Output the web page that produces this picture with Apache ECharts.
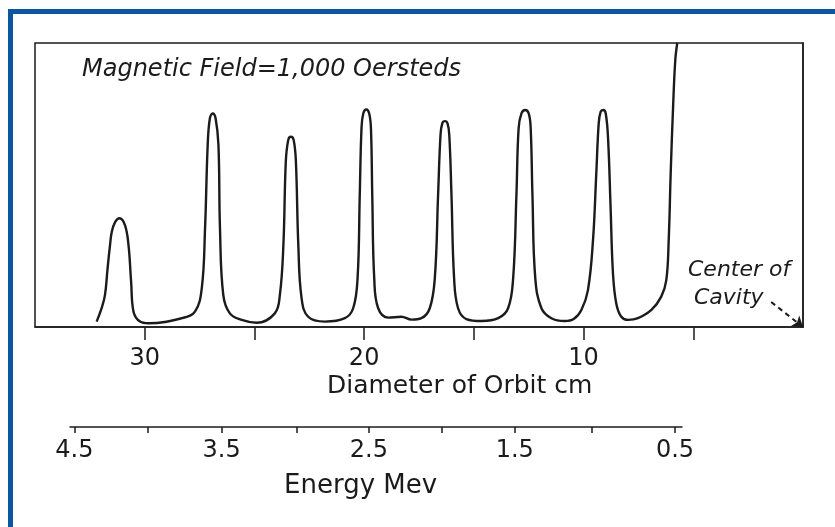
<!DOCTYPE html>
<html>
<head>
<meta charset="utf-8">
<script src="https://cdn.jsdelivr.net/npm/echarts@6/dist/echarts.min.js"></script>
<style>
  html, body { margin: 0; padding: 0; background: #fff; }
  #chart { width: 835px; height: 527px; }
</style>
</head>
<body>
<div id="chart"></div>
<script>
// orbit diameter (cm), left to right
var orbitCm = [
  32.19, 31.96, 31.81, 31.69, 31.58, 31.50, 31.35, 31.15, 30.90, 30.74,
  30.62, 30.51, 30.21, 29.83, 28.31, 27.71, 27.40, 27.25, 27.13, 27.03,
  26.90, 26.77, 26.64, 26.57, 26.42, 26.12, 25.58, 24.90, 24.07, 23.84,
  23.68, 23.57, 23.46, 23.34, 23.21, 23.11, 23.00, 22.85, 22.55, 21.79,
  20.88, 20.50, 20.30, 20.20, 20.12, 20.04, 19.90, 19.77, 19.69, 19.63,
  19.54, 19.36, 18.90, 18.30, 17.84, 17.39, 17.01, 16.78, 16.63, 16.52,
  16.44, 16.32, 16.20, 16.12, 16.02, 15.90, 15.72, 15.34, 14.65, 13.89,
  13.44, 13.21, 13.06, 12.96, 12.83, 12.66, 12.50, 12.41, 12.33, 12.20,
  11.92, 11.47, 10.86, 10.45, 10.10, 9.80, 9.57, 9.42, 9.31, 9.22,
  9.11, 8.99, 8.88, 8.77, 8.66, 8.51, 8.28, 7.97, 7.52, 6.91,
  6.46, 6.23, 6.12, 6.03, 5.92, 5.82, 5.73
];
// detector signal (arbitrary units, 0-100 of the box height)
var signal = [
  1.9, 6.7, 11.3, 20.8, 28.9, 33.5, 36.9, 38.3, 35.9, 28.9,
  16.0, 5.4, 1.9, 1.3, 3.1, 5.4, 13.6, 34.8, 64.1, 73.5,
  75.2, 73.5, 64.1, 34.8, 11.3, 4.8, 2.5, 1.5, 4.8, 11.3,
  28.9, 58.2, 65.8, 67.0, 65.8, 58.2, 28.9, 10.1, 3.6, 1.9,
  3.1, 6.6, 17.1, 46.5, 70.0, 75.2, 76.6, 75.2, 70.0, 46.5,
  17.1, 6.6, 3.3, 3.6, 2.6, 3.1, 6.6, 17.1, 46.5, 67.6,
  71.7, 72.5, 71.7, 67.6, 46.5, 17.1, 6.6, 2.8, 2.1, 3.1,
  6.6, 17.1, 46.5, 70.0, 75.2, 76.4, 75.2, 70.0, 46.5, 17.1,
  6.6, 3.1, 2.1, 2.8, 6.0, 13.0, 30.6, 54.1, 71.7, 75.8,
  76.4, 75.2, 65.8, 42.4, 18.9, 8.3, 3.6, 2.5, 3.1, 6.0,
  10.7, 16.5, 30.6, 54.1, 77.6, 94.0, 100
];

var diameterTicks = [5, 10, 15, 20, 25, 30];
var diameterLabels = [10, 20, 30];

// energy scale (Mev) and where each tick sits on the diameter scale
var energyTicks = [4.5, 4.0, 3.5, 3.0, 2.5, 2.0, 1.5, 1.0, 0.5];
var energyTickCm = [33.10, 29.77, 26.40, 22.98, 19.70, 16.39, 13.06, 9.55, 5.77];
var energyLabelCm = energyTickCm.filter(function (c, i) { return i % 2 === 0 });

var arrowFrom = [1.45, 8.8];
var cavityCenter = [0, 0];

var ink = '#1b1b1b';
var font = 'DejaVu Sans';

var chart = echarts.init(document.getElementById('chart'));
chart.setOption({
  animation: false,
  backgroundColor: '#fff',
  grid: [
    { left: 35, right: 32, top: 43, height: 284, show: true, borderColor: ink, borderWidth: 1.5, backgroundColor: 'transparent' },
    { left: 70, right: 153, top: 426, height: 1 }
  ],
  xAxis: [
    {
      type: 'value', gridIndex: 0, min: 0, max: 35, inverse: true,
      axisLine: { lineStyle: { color: ink, width: 1.5 } },
      splitLine: { show: false },
      axisTick: { customValues: diameterTicks, length: 13, lineStyle: { color: ink, width: 1.5 } },
      axisLabel: { customValues: diameterLabels, margin: 20, color: ink, fontFamily: font, fontSize: 24 }
    },
    {
      type: 'value', gridIndex: 1, min: 5.45, max: 33.3, inverse: true,
      axisLine: { lineStyle: { color: ink, width: 1.5 } },
      splitLine: { show: false },
      axisTick: { customValues: energyTickCm, length: 6, lineStyle: { color: ink, width: 1.5 } },
      axisLabel: {
        customValues: energyLabelCm, margin: 12, color: ink, fontFamily: font, fontSize: 24,
        formatter: function (v) {
          var i = energyTickCm.indexOf(v);
          return i < 0 ? '' : energyTicks[i].toFixed(1);
        }
      }
    }
  ],
  yAxis: [
    { type: 'value', gridIndex: 0, min: 0, max: 100, axisLine: { show: true, lineStyle: { color: ink, width: 1.5 } }, axisTick: { show: false }, axisLabel: { show: false }, splitLine: { show: false } },
    { type: 'value', gridIndex: 1, min: 0, max: 1, show: false }
  ],
  series: [
    {
      type: 'line', xAxisIndex: 0, yAxisIndex: 0,
      data: orbitCm.map(function (c, i) { return [c, signal[i]] }),
      showSymbol: false, smooth: 0.4,
      lineStyle: { color: ink, width: 2.4 },
      clip: true,
      markLine: {
        silent: true, symbol: ['none', 'arrow'], symbolSize: 10,
        label: { show: false },
        lineStyle: { color: ink, width: 2, type: [5, 4] },
        data: [[{ coord: arrowFrom }, { coord: cavityCenter }]]
      }
    }
  ],
  graphic: [
    { type: 'rect', shape: { x: 8, y: 9, width: 5, height: 518 }, style: { fill: '#0b569c' } },
    { type: 'rect', shape: { x: 8, y: 9, width: 827, height: 5 }, style: { fill: '#0b569c' } },
    { type: 'text', left: 82, top: 58, style: { text: 'Magnetic Field=1,000 Oersteds', font: 'italic 24px "DejaVu Sans"', fill: ink } },
    { type: 'text', left: 688, top: 259, style: { text: 'Center of', font: 'italic 22px "DejaVu Sans"', fill: ink } },
    { type: 'text', left: 694, top: 287, style: { text: 'Cavity', font: 'italic 22px "DejaVu Sans"', fill: ink } },
    { type: 'text', left: 327, top: 374, style: { text: 'Diameter of Orbit cm', font: '25px "DejaVu Sans"', fill: ink } },
    { type: 'text', left: 284, top: 473, style: { text: 'Energy Mev', font: '26px "DejaVu Sans"', fill: ink } }
  ]
});
</script>
</body>
</html>
